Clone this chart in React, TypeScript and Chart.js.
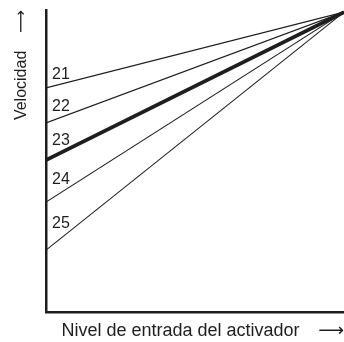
import React, { useEffect, useRef } from "react";
import { Chart, registerables } from "chart.js";

Chart.register(...registerables);

// Data
const inputLevels = [0, 100];
const seriesLabels = ["21", "22", "23", "24", "25"];
const speed21 = [74.2, 99.3];
const speed22 = [62.6, 99.3];
const speed23 = [50.3, 99.3];
const speed24 = [36.4, 99.3];
const speed25 = [20.5, 99.3];
const seriesValues = [speed21, speed22, speed23, speed24, speed25];
const seriesWidths = [1.1, 1.1, 3.8, 1.1, 1.1];

const xTitle = "Nivel de entrada del activador   \u2009\u27F6";
const yTitle = "Velocidad    \u27F6";

const FONT = "'Liberation Sans', Arial, 'DejaVu Sans', sans-serif";
const INK = "#1e1e1e";

const lineLabelPlugin = {
  id: "lineLabels",
  afterDatasetsDraw(chart: any) {
    const { ctx, scales } = chart;
    const xs = scales.x;
    const ys = scales.y;
    ctx.save();
    ctx.font = `16px ${FONT}`;
    ctx.fillStyle = INK;
    ctx.textAlign = "left";
    ctx.textBaseline = "alphabetic";
    chart.data.datasets.forEach((ds: any) => {
      const px = xs.getPixelForValue(0) + 6;
      const xv = xs.getValueForPixel(px + 18);
      const p0 = ds.data[0];
      const p1 = ds.data[1];
      const yv = p0.y + ((p1.y - p0.y) * (xv - p0.x)) / (p1.x - p0.x);
      ctx.fillText(ds.label, px, ys.getPixelForValue(yv) - 3);
    });
    ctx.restore();
  },
};

export default function App() {
  const ref = useRef<HTMLCanvasElement | null>(null);

  useEffect(() => {
    document.body.style.margin = "0";
    document.body.style.overflow = "hidden";
    document.documentElement.style.overflow = "hidden";
    const canvas = ref.current;
    if (!canvas) return;
    const chart = new Chart(canvas, {
      type: "line",
      data: {
        datasets: seriesValues.map((vals, i) => ({
          label: seriesLabels[i],
          data: inputLevels.map((x, j) => ({ x, y: vals[j] })),
          borderColor: INK,
          borderWidth: seriesWidths[i],
          pointRadius: 0,
          fill: false,
          tension: 0,
        })),
      },
      options: {
        animation: false,
        responsive: false,
        devicePixelRatio: 1,
        layout: { padding: { top: 10, left: 0, right: 0, bottom: 0 } },
        plugins: {
          legend: { display: false },
          tooltip: { enabled: false },
        },
        scales: {
          x: {
            type: "linear",
            min: 0,
            max: 100,
            grid: { display: false, drawTicks: false },
            border: { display: true, color: INK, width: 2.5 },
            ticks: { display: false },
            title: {
              display: true,
              text: xTitle,
              align: "end",
              color: INK,
              font: { family: FONT, size: 18 },
              padding: { top: 0, bottom: 0 },
            },
            afterFit: (scale: any) => {
              scale.height = 30;
            },
          },
          y: {
            type: "linear",
            min: 0,
            max: 100,
            grid: { display: false, drawTicks: false },
            border: { display: true, color: INK, width: 2.5 },
            ticks: { display: false },
            title: {
              display: true,
              text: yTitle,
              align: "end",
              color: INK,
              font: { family: FONT, size: 16 },
              padding: { top: 12, bottom: 0 },
            },
            afterFit: (scale: any) => {
              scale.width = 46;
            },
          },
        },
      },
      plugins: [lineLabelPlugin],
    });
    return () => chart.destroy();
  }, []);

  return (
    <canvas
      ref={ref}
      width={344}
      height={342}
      style={{ display: "block", width: 344, height: 342 }}
    />
  );
}
